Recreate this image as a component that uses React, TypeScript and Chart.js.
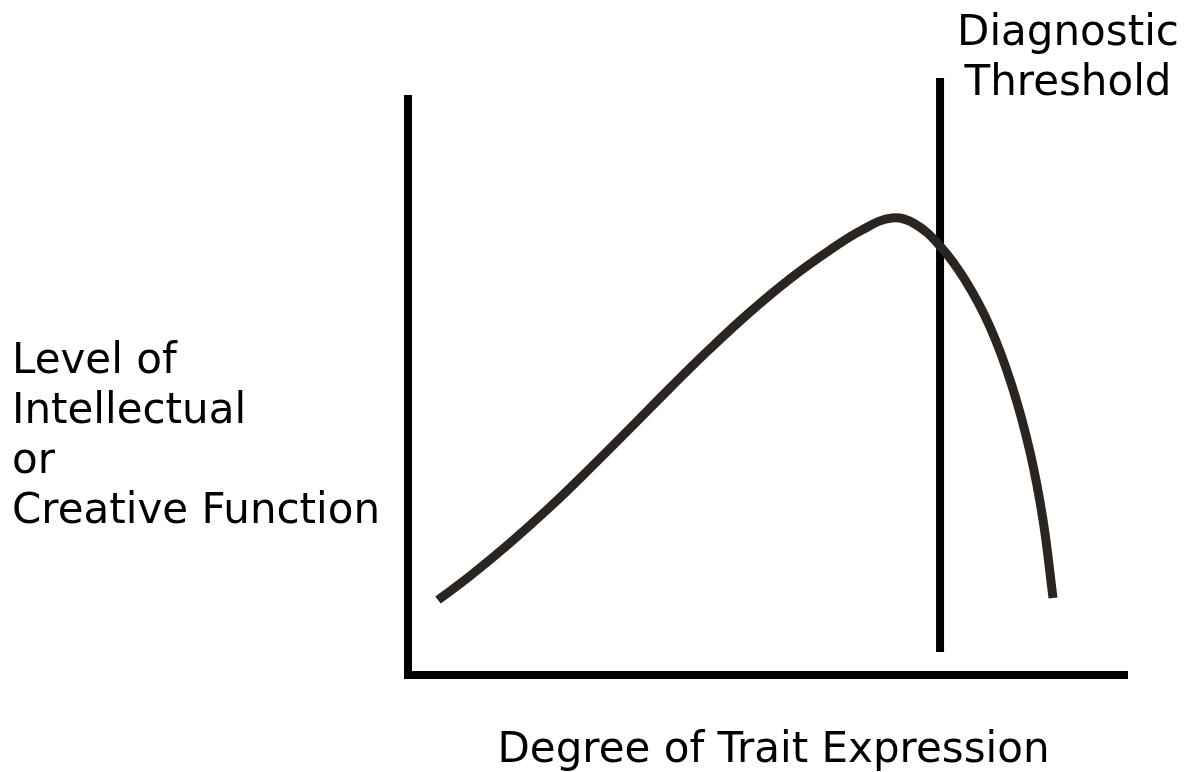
import React, { useEffect, useRef } from "react";
import { Chart, registerables } from "chart.js";

Chart.register(...registerables);

// Curve: degree of trait expression (x) vs level of function (y), 0-100 scale
const traitExpression = [
  4.17, 8.62, 14.19, 19.75, 25.31, 30.88, 36.44, 42.0, 47.57, 53.13, 58.69, 63.14,
  67.32, 70.51, 73.99, 77.47, 80.95, 84.01, 86.51, 88.32, 89.71,
];
const functionLevel = [
  13.02, 17.19, 22.95, 29.17, 35.87, 42.81, 49.83, 56.63, 63.02, 68.78, 73.78, 77.26,
  79.34, 78.3, 74.48, 68.58, 60.42, 50.17, 38.72, 26.91, 13.37,
];

// Diagnostic threshold (vertical line)
const thresholdX = 74;
const thresholdYRange = [3.99, 103.65];

// Text
const thresholdLabel = ["Diagnostic", "Threshold"];
const yAxisLabel = ["Level of", "Intellectual", "or", "Creative Function"];
const xAxisLabel = "Degree of Trait Expression";

const FONT = '42px "DejaVu Sans"';

const labelPlugin = {
  id: "labels",
  afterDraw(chart: any) {
    const ctx = chart.ctx as CanvasRenderingContext2D;
    const area = chart.chartArea;
    ctx.save();
    ctx.font = FONT;
    ctx.fillStyle = "#000";
    ctx.textBaseline = "alphabetic";

    // Threshold label, centered at the top right
    ctx.textAlign = "center";
    const tx = area.right - 59;
    thresholdLabel.forEach((t, i) => ctx.fillText(t, tx, 45 + i * 50));

    // Y label, left-aligned, multi-line, horizontal
    ctx.textAlign = "left";
    yAxisLabel.forEach((t, i) => ctx.fillText(t, 12, 373 + i * 50));

    // X label
    ctx.textAlign = "center";
    ctx.fillText(xAxisLabel, (area.left + area.right) / 2 + 6, area.bottom + 87);
    ctx.restore();
  },
};

export default function App() {
  const ref = useRef<HTMLCanvasElement | null>(null);

  useEffect(() => {
    if (!ref.current) return;
    const curve = traitExpression.map((x, i) => ({ x, y: functionLevel[i] }));
    const threshold = thresholdYRange.map((y) => ({ x: thresholdX, y }));

    const chart = new Chart(ref.current, {
      type: "line",
      data: {
        datasets: [
          {
            data: curve,
            borderColor: "#2b2522",
            borderWidth: 9,
            pointRadius: 0,
            tension: 0.4,
            borderCapStyle: "butt",
            borderJoinStyle: "round",
            fill: false,
          },
          {
            data: threshold,
            borderColor: "#000000",
            borderWidth: 8,
            pointRadius: 0,
            borderCapStyle: "butt",
            clip: false,
            fill: false,
          } as any,
        ],
      },
      options: {
        responsive: false,
        animation: false,
        events: [],
        layout: { padding: { left: 408, right: 58, top: 99, bottom: 97 } },
        plugins: {
          legend: { display: false },
          tooltip: { enabled: false },
          title: { display: false },
        },
        scales: {
          x: {
            type: "linear",
            min: 0,
            max: 100,
            ticks: { display: false },
            grid: { display: true, color: "rgba(0,0,0,0)", drawTicks: false, lineWidth: 2 },
            border: { display: true, color: "#000", width: 8 },
          },
          y: {
            type: "linear",
            min: 0,
            max: 100,
            ticks: { display: false },
            grid: { display: true, color: "rgba(0,0,0,0)", drawTicks: false, lineWidth: 8 },
            border: { display: true, color: "#000", width: 8 },
          },
        },
      },
      plugins: [labelPlugin],
    });
    return () => chart.destroy();
  }, []);

  return (
    <div style={{ position: "fixed", left: 0, top: 0, width: 1185, height: 772, background: "#fff" }}>
      <canvas ref={ref} width={1185} height={772} style={{ display: "block" }} />
    </div>
  );
}
